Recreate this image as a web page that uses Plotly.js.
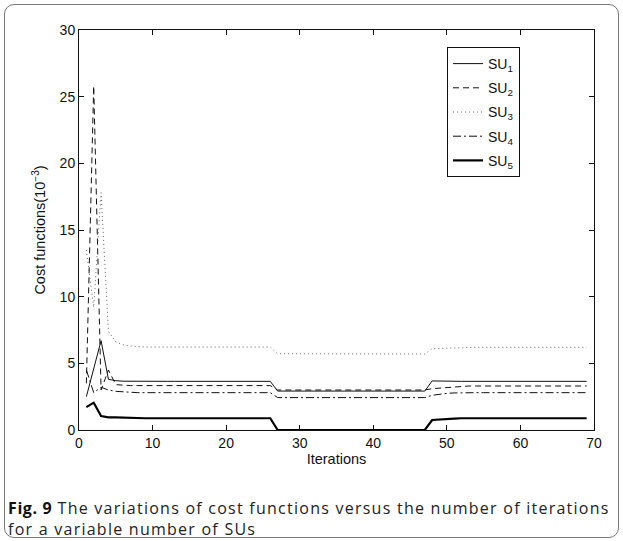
<!DOCTYPE html>
<html>
<head>
<meta charset="utf-8">
<script src="https://cdn.plot.ly/plotly-3.0.1.min.js"></script>
<style>
  html, body { margin: 0; padding: 0; background: #fff; }
  #wrap { position: relative; width: 623px; height: 541px; overflow: hidden; }
  #chart { position: absolute; left: 0; top: 0; width: 623px; height: 541px; }
  #frame { position: absolute; left: 4px; top: 4px; width: 613px; height: 532px;
           border: 1px solid #7a7a7a; border-radius: 10px; pointer-events: none; }
  .cap { position: absolute; left: 8px; width: 612px; height: 21px;
         font-family: 'Open Sans', 'Noto Sans', sans-serif; font-size: 16px;
         line-height: 21px; letter-spacing: 1.25px; color: #222; white-space: nowrap; }
  .cap b { color: #111; letter-spacing: 0.6px; }
  #cap1 { top: 498px; }
  #cap2 { top: 519px; }
</style>
</head>
<body>
<div id="wrap">
  <div id="chart"></div>
  <div id="frame"></div>
  <div id="cap1" class="cap"></div>
  <div id="cap2" class="cap"></div>
</div>
<script>
// Iteration index
const iterations = [1,2,3,4,5,6,7,8,9,10,11,12,13,14,15,16,17,18,19,20,21,22,23,24,25,26,27,28,29,30,31,32,33,34,35,36,37,38,39,40,41,42,43,44,45,46,47,48,49,50,51,52,53,54,55,56,57,58,59,60,61,62,63,64,65,66,67,68,69];

// Cost functions (x 10^-3)
const su1 = [2.5,4.6,6.7,3.8,3.7,3.66,3.65,3.65,
  3.65,3.65,3.65,3.65,3.65,3.65,3.65,3.65,3.65,3.65,3.65,3.65,3.65,3.65,3.65,3.65,3.65,3.65,
  2.92,2.92,2.92,2.92,2.92,2.92,2.92,2.92,2.92,2.92,2.92,2.92,2.92,2.92,2.92,2.92,2.92,2.92,2.92,2.92,2.92,
  3.68,3.66,3.65,3.65,3.65,3.65,3.65,3.65,3.65,3.65,3.65,3.65,3.65,3.65,3.65,3.65,3.65,3.65,3.65,3.65,3.65,3.65];
const su2 = [3.5,25.8,3.0,4.5,3.4,3.35,3.33,3.33,
  3.33,3.33,3.33,3.33,3.33,3.33,3.33,3.33,3.33,3.33,3.33,3.33,3.33,3.33,3.33,3.33,3.33,3.33,
  3.0,3.0,3.0,3.0,3.0,3.0,3.0,3.0,3.0,3.0,3.0,3.0,3.0,3.0,3.0,3.0,3.0,3.0,3.0,3.0,3.0,
  3.1,3.15,3.2,3.25,3.3,3.3,3.3,3.3,3.3,3.3,3.3,3.3,3.3,3.3,3.3,3.3,3.3,3.3,3.3,3.3,3.3,3.3];
const su3 = [13.5,9.2,17.8,7.4,6.6,6.4,6.3,6.25,
  6.22,6.22,6.22,6.22,6.22,6.22,6.22,6.22,6.22,6.22,6.22,6.22,6.22,6.22,6.22,6.22,6.22,6.22,
  5.72,5.72,5.72,5.72,5.72,5.72,5.72,5.72,5.72,5.72,5.72,5.72,5.72,5.72,5.72,5.72,5.72,5.72,5.72,5.72,5.70,
  6.1,6.12,6.15,6.17,6.2,6.2,6.2,6.2,6.2,6.2,6.2,6.2,6.2,6.2,6.2,6.2,6.2,6.2,6.2,6.2,6.2,6.2];
const su4 = [4.5,2.8,3.2,3.0,2.9,2.85,2.82,2.8,
  2.8,2.8,2.8,2.8,2.8,2.8,2.8,2.8,2.8,2.8,2.8,2.8,2.8,2.8,2.8,2.8,2.8,2.8,
  2.43,2.43,2.43,2.43,2.43,2.43,2.43,2.43,2.43,2.43,2.43,2.43,2.43,2.43,2.43,2.43,2.43,2.43,2.43,2.43,2.43,
  2.6,2.7,2.75,2.78,2.8,2.8,2.8,2.8,2.8,2.8,2.8,2.8,2.8,2.8,2.8,2.8,2.8,2.8,2.8,2.8,2.8,2.8];
const su5 = [1.72,2.05,1.05,0.95,0.95,0.92,0.9,0.88,
  0.88,0.88,0.88,0.88,0.88,0.88,0.88,0.88,0.88,0.88,0.88,0.88,0.88,0.88,0.88,0.88,0.88,0.88,
  0.0,0.0,0.0,0.0,0.0,0.0,0.0,0.0,0.0,0.0,0.0,0.0,0.0,0.0,0.0,0.0,0.0,0.0,0.0,0.0,0.0,
  0.75,0.8,0.84,0.86,0.88,0.88,0.88,0.88,0.88,0.88,0.88,0.88,0.88,0.88,0.88,0.88,0.88,0.88,0.88,0.88,0.88,0.88];

const seriesNames = ['SU<sub>1</sub>','SU<sub>2</sub>','SU<sub>3</sub>','SU<sub>4</sub>','SU<sub>5</sub>'];
const xTicks = [0,10,20,30,40,50,60,70];
const yTicks = [0,5,10,15,20,25,30];
const xTitle = 'Iterations';
const yTitle = 'Cost functions(10<sup>\u22123</sup>)';
const captionBold = 'Fig. 9';
const captionLine1 = ' The variations of cost functions versus the number of iterations';
const captionLine2 = 'for a variable number of SUs';

const styles = [
  {color:'#111', width:1, dash:'solid'},
  {color:'#111', width:1, dash:'6px,4px'},
  {color:'#666', width:1, dash:'1px,3px'},
  {color:'#111', width:1, dash:'8px,3px,2px,3px'},
  {color:'#000', width:2.2, dash:'solid'}
];
const data = [su1, su2, su3, su4, su5].map((ys, i) => ({
  type: 'scatter', mode: 'lines', x: iterations, y: ys, name: seriesNames[i],
  legendgroup: 'g' + i, line: styles[i]
}));

const FONT = 'Liberation Sans, Arial, Helvetica, sans-serif';
const layout = {
  width: 623, height: 541,
  margin: {l: 79, r: 29, t: 30, b: 111},
  paper_bgcolor: '#fff', plot_bgcolor: '#fff',
  font: {family: FONT, size: 14, color: '#111'},
  showlegend: true,
  legend: {
    x: 0.7146, y: 0.9575, xanchor: 'left', yanchor: 'top',
    bordercolor: '#111', borderwidth: 1, bgcolor: '#fff',
    font: {family: FONT, size: 14, color: '#111'},
    tracegroupgap: 3
  },
  xaxis: {
    range: [0, 70], tickvals: xTicks, ticktext: xTicks.map(String),
    ticks: 'inside', ticklen: 5, tickcolor: '#111', mirror: 'ticks',
    showline: true, linecolor: '#111', linewidth: 1,
    showgrid: false, zeroline: false,
    tickfont: {family: FONT, size: 14, color: '#111'},
    title: {text: xTitle, font: {family: FONT, size: 14.5, color: '#111'}, standoff: 2}
  },
  yaxis: {
    range: [0, 30], tickvals: yTicks, ticktext: yTicks.map(String),
    ticks: 'inside', ticklen: 5, tickcolor: '#111', mirror: 'ticks',
    showline: true, linecolor: '#111', linewidth: 1,
    showgrid: false, zeroline: false,
    tickfont: {family: FONT, size: 14, color: '#111'},
    title: {text: yTitle, font: {family: FONT, size: 14.5, color: '#111'}, standoff: 10}
  }
};

document.getElementById('cap1').innerHTML = '<b>' + captionBold + '</b>' + captionLine1;
document.getElementById('cap2').textContent = captionLine2;

Plotly.newPlot('chart', data, layout, {displayModeBar: false, staticPlot: true});
</script>
</body>
</html>
